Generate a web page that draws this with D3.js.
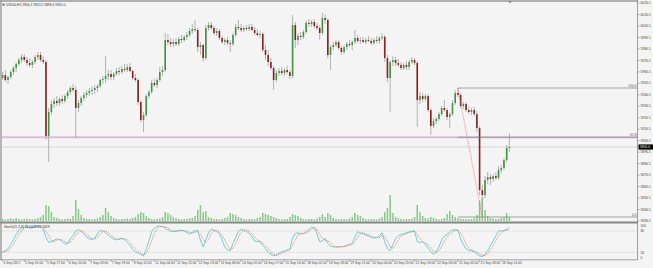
<!DOCTYPE html>
<html><head><meta charset="utf-8">
<script src="https://cdn.jsdelivr.net/npm/d3@7"></script>
<style>html,body{margin:0;padding:0;background:#f4f4f4;} svg{display:block;}</style>
</head><body><svg id="c" width="653" height="268"></svg>
<script>
// ---------- DATA (2-hour bars) ----------
const openP = [5961.1,5963.7,5959.4,5962.0,5966.3,5969.8,5973.3,5976.8,5979.4,5976.8,
5974.2,5972.5,5975.1,5979.4,5981.2,5976.8,5975.1,5910.6,5931.5,5938.5,
5941.1,5939.3,5942.8,5941.1,5945.4,5948.9,5952.4,5950.7,5935.0,5939.3,
5943.7,5946.3,5948.0,5949.8,5950.7,5952.4,5954.1,5959.4,5960.2,5962.9,
5964.6,5962.0,5964.6,5967.2,5966.3,5969.0,5968.1,5970.7,5967.2,5961.1,
5959.4,5940.2,5924.5,5928.9,5945.4,5948.9,5956.8,5955.0,5959.4,5966.3,
5968.1,5994.2,5992.5,5990.8,5992.5,5990.8,5995.1,5994.2,5996.9,5998.6,
6002.1,6003.8,6003.0,5988.1,5989.9,5978.5,6004.7,6007.3,6004.7,6000.3,
6002.1,5996.0,5992.5,5994.2,5991.6,5990.8,5998.6,6005.6,6004.7,6003.0,
6004.7,6003.8,6005.6,6003.0,6000.3,5998.6,5999.5,5985.5,5981.2,5975.1,
5969.8,5959.4,5965.5,5967.2,5965.5,5968.1,5966.3,5962.9,6007.3,5994.2,
5997.7,5996.9,6001.2,6009.1,6008.2,6009.9,6006.4,6004.7,6000.3,6013.4,
6011.7,5981.2,5988.1,5989.9,5992.5,5987.3,5983.8,5988.1,5990.8,5989.9,
5992.5,5996.0,5993.4,5994.2,5992.5,5994.2,5993.4,5991.6,5994.2,5993.4,
5996.0,5996.9,5978.5,5961.1,5975.1,5976.8,5974.2,5972.5,5969.8,5972.5,
5970.7,5975.1,5976.8,5974.2,5941.9,5945.4,5942.8,5945.4,5933.2,5919.3,
5923.6,5925.4,5929.7,5935.0,5933.2,5927.1,5929.7,5939.3,5948.0,5946.3,
5936.7,5938.5,5933.2,5931.5,5933.2,5929.7,5917.5,5863.5,5859.1,5872.2,
5874.8,5873.1,5875.7,5874.0,5880.9,5882.7,5889.6,5900.1];
const highP = [5966.3,5968.1,5962.9,5968.1,5971.6,5975.1,5978.5,5982.0,5982.0,5979.4,
5978.5,5976.8,5981.2,5983.8,5983.8,5980.3,5976.8,5935.0,5941.9,5943.7,
5945.4,5944.6,5946.3,5947.2,5950.7,5954.1,5955.9,5954.1,5941.9,5945.4,
5948.9,5950.7,5952.4,5954.1,5955.0,5955.9,5961.1,5962.9,5980.3,5968.1,
5968.1,5966.3,5969.8,5970.7,5971.6,5973.3,5973.3,5974.2,5968.1,5964.6,
5961.1,5941.9,5931.5,5947.2,5950.7,5959.4,5960.2,5961.1,5970.7,5971.6,
6000.3,5999.5,5996.0,5995.1,5996.0,5996.9,5998.6,5998.6,6001.2,6004.7,
6008.2,6011.7,6004.7,5992.5,5990.8,6007.3,6009.9,6009.9,6006.4,6004.7,
6003.8,5997.7,5996.0,5996.9,5994.2,6000.3,6008.2,6011.7,6008.2,6006.4,
6007.3,6008.2,6008.2,6005.6,6003.8,6002.1,6001.2,5989.9,5985.5,5978.5,
5971.6,5968.1,5969.8,5970.7,5969.8,5971.6,5968.1,6016.0,6009.9,6000.3,
6001.2,6003.0,6010.8,6012.5,6011.7,6012.5,6009.1,6007.3,6017.8,6016.9,
6013.4,5989.9,5992.5,5994.2,5994.2,5989.0,5989.9,5992.5,5994.2,5994.2,
6003.0,5998.6,5996.9,5996.9,5996.0,5997.7,5996.0,5996.0,5997.7,5997.7,
6000.3,5998.6,5981.2,5976.8,5980.3,5979.4,5977.7,5975.1,5974.2,5975.9,
5976.8,5979.4,5978.5,5975.9,5948.9,5948.0,5947.2,5947.2,5935.0,5926.3,
5927.1,5931.5,5936.7,5941.9,5935.0,5931.5,5941.9,5950.7,5952.4,5948.0,
5940.2,5940.2,5935.8,5935.0,5935.8,5932.4,5919.3,5867.9,5875.7,5879.2,
5877.4,5877.4,5879.2,5884.4,5885.3,5891.4,5902.7,5913.2];
const lowP = [5959.4,5957.6,5955.9,5960.2,5963.7,5966.3,5971.6,5974.2,5975.1,5971.6,
5970.7,5969.8,5973.3,5976.8,5975.1,5973.3,5907.1,5887.9,5928.9,5935.0,
5936.7,5936.7,5938.5,5939.3,5942.8,5946.3,5948.9,5908.8,5931.5,5936.7,
5941.1,5943.7,5945.4,5946.3,5947.2,5948.9,5952.4,5955.9,5956.8,5959.4,
5959.4,5959.4,5962.9,5963.7,5964.6,5966.3,5966.3,5966.3,5959.4,5957.6,
5937.6,5922.8,5914.1,5927.1,5942.8,5947.2,5953.3,5952.4,5957.6,5962.9,
5966.3,5989.9,5988.1,5988.1,5989.0,5989.0,5991.6,5992.5,5994.2,5996.9,
5999.5,6001.2,5983.8,5981.2,5975.1,5976.8,6002.1,6003.0,5998.6,5997.7,
5994.2,5990.8,5989.9,5989.9,5983.8,5989.0,5996.9,6003.0,6001.2,6001.2,
6002.1,6002.1,6002.1,5998.6,5997.7,5996.0,5983.8,5976.8,5971.6,5968.1,
5950.7,5957.6,5962.9,5963.7,5962.9,5964.6,5960.2,5961.1,5987.3,5989.9,
5994.2,5995.1,5999.5,6005.6,6005.6,6004.7,6003.0,5994.2,5998.6,6008.2,
5978.5,5968.1,5985.5,5988.1,5985.5,5981.2,5982.0,5985.5,5988.1,5985.5,
5990.8,5991.6,5990.8,5991.6,5990.8,5992.5,5989.9,5989.9,5991.6,5990.8,
5994.2,5975.1,5957.6,5931.5,5971.6,5971.6,5970.7,5968.1,5968.1,5968.1,
5968.1,5973.3,5972.5,5918.4,5938.5,5940.2,5941.1,5931.5,5911.4,5917.5,
5921.0,5923.6,5928.0,5931.5,5924.5,5917.5,5928.0,5937.6,5944.6,5935.0,
5934.1,5931.5,5929.7,5928.9,5928.0,5914.1,5859.1,5840.0,5856.5,5868.7,
5867.9,5870.5,5872.2,5872.2,5878.3,5880.9,5887.9,5896.6];
const closeP = [5963.7,5959.4,5962.0,5966.3,5969.8,5973.3,5976.8,5979.4,5976.8,5974.2,
5972.5,5975.1,5979.4,5981.2,5976.8,5975.1,5910.6,5931.5,5938.5,5941.1,
5939.3,5942.8,5941.1,5945.4,5948.9,5952.4,5950.7,5935.0,5939.3,5943.7,
5946.3,5948.0,5949.8,5950.7,5952.4,5954.1,5959.4,5960.2,5962.9,5964.6,
5962.0,5964.6,5967.2,5966.3,5969.0,5968.1,5970.7,5967.2,5961.1,5959.4,
5940.2,5924.5,5928.9,5945.4,5948.9,5956.8,5955.0,5959.4,5966.3,5968.1,
5994.2,5992.5,5990.8,5992.5,5990.8,5995.1,5994.2,5996.9,5998.6,6002.1,
6003.8,6003.0,5988.1,5989.9,5978.5,6004.7,6007.3,6004.7,6000.3,6002.1,
5996.0,5992.5,5994.2,5991.6,5990.8,5998.6,6005.6,6004.7,6003.0,6004.7,
6003.8,6005.6,6003.0,6000.3,5998.6,5999.5,5985.5,5981.2,5975.1,5969.8,
5959.4,5965.5,5967.2,5965.5,5968.1,5966.3,5962.9,6007.3,5994.2,5997.7,
5996.9,6001.2,6009.1,6008.2,6009.9,6006.4,6004.7,6000.3,6013.4,6011.7,
5981.2,5988.1,5989.9,5992.5,5987.3,5983.8,5988.1,5990.8,5989.9,5992.5,
5996.0,5993.4,5994.2,5992.5,5994.2,5993.4,5991.6,5994.2,5993.4,5996.0,
5996.9,5978.5,5961.1,5975.1,5976.8,5974.2,5972.5,5969.8,5972.5,5970.7,
5975.1,5976.8,5974.2,5941.9,5945.4,5942.8,5945.4,5933.2,5919.3,5923.6,
5925.4,5929.7,5935.0,5933.2,5927.1,5929.7,5939.3,5948.0,5946.3,5936.7,
5938.5,5933.2,5931.5,5933.2,5929.7,5917.5,5863.5,5859.1,5872.2,5874.8,
5873.1,5875.7,5874.0,5880.9,5882.7,5889.6,5900.1,5901.0];
const volume = [200,150,200,250,200,300,200,150,200,250,
200,150,200,300,400,600,1600,1500,900,400,
300,200,150,200,250,200,500,2100,1200,600,
300,200,200,150,200,250,400,600,1300,900,
500,300,200,150,200,200,250,200,300,400,
700,900,800,500,300,200,150,200,250,400,
900,800,600,400,300,200,150,200,200,300,
300,500,1100,1600,900,1000,400,300,200,200,
150,200,300,400,800,700,600,400,300,200,
150,200,200,150,300,400,800,700,600,500,
400,300,200,150,200,200,400,700,600,500,
300,200,150,200,200,150,250,400,700,400,
800,600,300,200,150,200,200,150,250,400,
800,600,500,300,200,150,200,200,150,250,
400,900,1300,2600,800,400,300,200,150,200,
200,250,400,1600,900,500,300,250,400,300,
200,150,200,300,700,1000,600,400,300,250,
200,200,150,200,300,600,2000,2300,1100,500,
300,250,200,200,300,400,800,400];
const stochK = [22,24,30,42,55,70,82,89,91,91,
88,90,94,94,92,84,62,48,50,54,
58,56,50,43,45,58,67,80,84,78,
72,63,58,55,60,72,82,80,75,68,
62,57,55,58,60,56,48,40,28,22,
18,14,10,30,52,78,88,94,93,92,
88,83,78,78,80,81,82,80,75,72,
76,80,82,55,35,55,75,85,82,78,
72,55,35,27,25,45,62,78,85,82,
78,74,64,52,50,50,40,30,20,14,
11,12,18,22,24,27,30,60,73,75,
72,72,78,84,90,90,72,50,52,60,
45,38,35,35,35,36,37,40,42,45,
62,78,75,72,68,66,62,60,61,66,
75,50,30,25,42,58,66,70,72,75,
77,79,80,50,47,50,42,32,22,14,
22,35,55,65,70,78,83,83,82,58,
42,30,26,24,22,15,10,8,15,25,
40,52,66,80,80,81,85,88];
const stochD = [20,22,25,32,42,55,69,80,87,90,
90,89,90,92,93,90,79,65,53,50,
54,56,55,50,46,48,57,68,77,81,
78,71,64,59,57,62,71,78,79,75,
68,62,58,56,58,58,55,48,39,30,
23,18,14,18,31,53,73,87,92,93,
91,88,83,80,79,80,81,81,79,76,
74,76,79,72,57,48,55,72,81,82,
77,68,54,39,29,32,44,62,75,82,
82,78,72,63,55,51,47,40,30,21,
15,12,14,17,21,24,27,39,54,69,
73,73,74,78,84,88,84,71,58,54,
52,48,39,36,35,35,36,38,40,42,
50,62,72,75,72,69,65,63,61,62,
67,64,52,35,32,42,55,65,69,72,
75,77,79,70,59,49,46,41,32,23,
19,24,37,52,63,71,77,81,83,74,
61,43,33,27,24,20,16,11,11,16,
27,39,53,66,75,80,82,83];
const timeLabels = ["4 Sep 2017","5 Sep 01:00","5 Sep 17:00","6 Sep 10:00","7 Sep 03:00","7 Sep 19:00",
"8 Sep 12:00","11 Sep 04:00","11 Sep 21:00","12 Sep 13:00","13 Sep 08:00","14 Sep 01:00",
"14 Sep 17:00","15 Sep 10:00","18 Sep 02:00","18 Sep 18:00","19 Sep 11:00","20 Sep 04:00",
"20 Sep 20:00","21 Sep 13:00","22 Sep 06:00","25 Sep 02:00","25 Sep 18:00","26 Sep 11:00"];
const labelEvery = 8;
const priceTicks = [6026.5,6016.5,6006.5,5996.5,5986.5,5976.5,5966.5,5956.5,5946.5,5936.5,
5926.5,5916.5,5906.5,5896.5,5886.5,5876.5,5866.5,5856.5,5846.5,5836.5];
const stochTicks = [100,80,20,0];
const stochLevels = [80,20];
const fibLevels = [100,61.8,0];
const fibHighIndex = 168, fibLowIndex = 177;
const supportLevel = 5909.6;
const chartTitle = "US100,H1  5900.1 5913.2 5896.6 5901.0";
const stochTitle = "Stoch(21,3,3) 78.5023 82.7459";

// ---------- DRAW ----------
const svg = d3.select("#c");
const W = 653, H = 268, L = 2, R = 637.5;
const n = closeP.length;
const x = d3.scaleLinear().domain([0, n - 1]).range([2.6, 509.4]);
const y = d3.scaleLinear().domain([5836.5, 6026.5]).range([221, 3]);
const yV = d3.scaleLinear().domain([0, 3000]).range([221, 191]);
const yS = d3.scaleLinear().domain([0, 100]).range([259.5, 223.8]);
const font = "'Liberation Sans', Arial, sans-serif";
const fs = 3.3;

svg.append("rect").attr("width", W).attr("height", H).attr("fill", "#f4f4f4");

// horizontal reference lines
svg.append("line").attr("x1", L).attr("x2", R).attr("y1", y(supportLevel)).attr("y2", y(supportLevel))
  .attr("stroke", "#dcbcdc").attr("stroke-width", 2);
svg.append("line").attr("x1", L).attr("x2", R).attr("y1", y(closeP[n-1])).attr("y2", y(closeP[n-1]))
  .attr("stroke", "#cfcfcf").attr("stroke-width", 0.8);

// volumes
svg.append("g").selectAll("rect").data(volume).join("rect")
  .attr("x", (d, i) => x(i) - 0.75).attr("width", 1.5)
  .attr("y", d => yV(d)).attr("height", d => 221 - yV(d))
  .attr("fill", "#86c886");

// candles
const idx = d3.range(n);
svg.append("g").selectAll("line").data(idx).join("line")
  .attr("x1", i => x(i)).attr("x2", i => x(i))
  .attr("y1", i => y(highP[i])).attr("y2", i => y(lowP[i]))
  .attr("stroke", "#a2a2a2").attr("stroke-width", 0.8);
svg.append("g").selectAll("rect").data(idx).join("rect")
  .attr("x", i => x(i) - 0.8).attr("width", 1.6)
  .attr("y", i => Math.min(y(openP[i]), y(closeP[i])))
  .attr("height", i => Math.max(0.6, Math.abs(y(openP[i]) - y(closeP[i]))))
  .attr("fill", i => closeP[i] >= openP[i] ? "#3f9442" : "#8e1f1f");

// fibonacci
const fH = highP[fibHighIndex], fL = lowP[fibLowIndex];
const gF = svg.append("g");
fibLevels.forEach(lv => {
  const p = fL + (fH - fL) * lv / 100;
  gF.append("line").attr("x1", x(fibHighIndex)).attr("x2", R).attr("y1", y(p)).attr("y2", y(p))
    .attr("stroke", "#8a8a8a").attr("stroke-width", 0.8);
  gF.append("text").attr("x", R - 1).attr("y", y(p) - 1).attr("text-anchor", "end")
    .attr("font-family", font).attr("font-size", fs).attr("fill", "#555").text(lv.toFixed(1));
});
gF.append("line").attr("x1", x(fibHighIndex)).attr("y1", y(fH)).attr("x2", x(fibLowIndex)).attr("y2", y(fL))
  .attr("stroke", "#e06a6a").attr("stroke-width", 0.8).attr("stroke-dasharray", "1,1");

// separator + frame
svg.append("line").attr("x1", 0).attr("x2", R + 0.5).attr("y1", 222.6).attr("y2", 222.6).attr("stroke", "#858585").attr("stroke-width", 2);
svg.append("line").attr("x1", 0).attr("x2", R + 0.5).attr("y1", 1).attr("y2", 1).attr("stroke", "#9a9a9a").attr("stroke-width", 1.4);
svg.append("line").attr("x1", 1).attr("x2", 1).attr("y1", 0).attr("y2", 260).attr("stroke", "#9a9a9a").attr("stroke-width", 1.4);
svg.append("line").attr("x1", R).attr("x2", R).attr("y1", 0).attr("y2", 260).attr("stroke", "#8a8a8a").attr("stroke-width", 0.8);
svg.append("line").attr("x1", 0).attr("x2", R + 0.5).attr("y1", 259.8).attr("y2", 259.8).attr("stroke", "#8a8a8a").attr("stroke-width", 0.8);
svg.append("path").attr("d", "M508,1 L512,1 L510,3.5 Z").attr("fill", "#888");

// price axis
const gP = svg.append("g");
priceTicks.forEach(p => {
  gP.append("line").attr("x1", R).attr("x2", R + 2).attr("y1", y(p)).attr("y2", y(p)).attr("stroke", "#777").attr("stroke-width", 0.6);
  gP.append("text").attr("x", R + 3).attr("y", y(p)).attr("dy", "0.35em")
    .attr("font-family", font).attr("font-size", fs).attr("fill", "#444").text(p.toFixed(1));
});
const yl = y(closeP[n-1]);
gP.append("rect").attr("x", R + 1).attr("y", yl - 2.6).attr("width", 14.5).attr("height", 5.2).attr("fill", "#000");
gP.append("text").attr("x", R + 2.5).attr("y", yl).attr("dy", "0.35em")
  .attr("font-family", font).attr("font-size", fs).attr("fill", "#fff").text(closeP[n-1].toFixed(1));

// stochastic
const gS = svg.append("g");
stochLevels.forEach(v => {
  gS.append("line").attr("x1", L).attr("x2", R).attr("y1", yS(v)).attr("y2", yS(v))
    .attr("stroke", "#bdbdbd").attr("stroke-width", 0.6).attr("stroke-dasharray", "1,1");
});
gS.append("path").datum(stochK).attr("fill", "none").attr("stroke", "#5ccccc").attr("stroke-width", 0.9)
  .attr("d", d3.line().x((d, i) => x(i)).y(d => yS(d)));
gS.append("path").datum(stochD).attr("fill", "none").attr("stroke", "#f07070").attr("stroke-width", 0.9)
  .attr("stroke-dasharray", "1,1")
  .attr("d", d3.line().x((d, i) => x(i)).y(d => yS(d)));
stochTicks.forEach(v => {
  const yy = Math.max(226, Math.min(257.8, yS(v)));
  gS.append("text").attr("x", R + 3).attr("y", yy).attr("dy", "0.35em")
    .attr("font-family", font).attr("font-size", fs).attr("fill", "#444").text(v);
});
gS.append("text").attr("x", 4).attr("y", 226.5).attr("dy", "0.35em")
  .attr("font-family", font).attr("font-size", fs).attr("fill", "#333").text(stochTitle);

// time axis
const gT = svg.append("g");
timeLabels.forEach((t, k) => {
  const xx = x(k * labelEvery);
  gT.append("line").attr("x1", xx).attr("x2", xx).attr("y1", 259.8).attr("y2", 261.8).attr("stroke", "#777").attr("stroke-width", 0.6);
  gT.append("text").attr("x", xx + 1).attr("y", 263.3).attr("dy", "0.35em")
    .attr("font-family", font).attr("font-size", fs).attr("fill", "#444").text(t);
});

// title
svg.append("rect").attr("x", 2.5).attr("y", 3.6).attr("width", 2).attr("height", 2).attr("fill", "#666");
svg.append("text").attr("x", 6).attr("y", 4.8).attr("dy", "0.35em")
  .attr("font-family", font).attr("font-size", fs).attr("fill", "#333").text(chartTitle);
</script>
</body></html>
